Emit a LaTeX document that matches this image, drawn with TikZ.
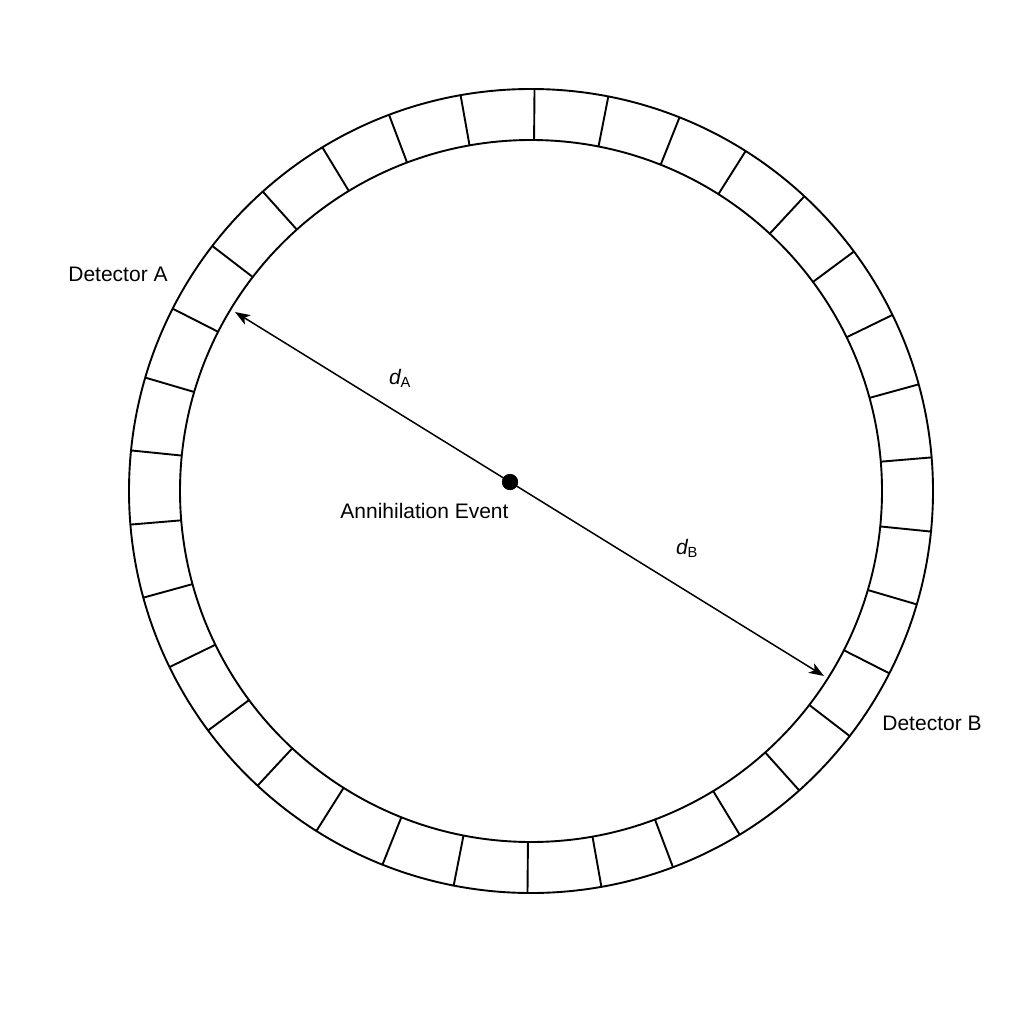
\documentclass[tikz,border=0pt]{standalone}
\usepackage{fontspec}
\setmainfont{Liberation Sans}
\usetikzlibrary{arrows.meta,calc}
\begin{document}
\begin{tikzpicture}[x=1pt,y=-1pt,
  ring/.style={draw=black,line width=1.9pt},
  arr/.style={draw=black,line width=1.5pt,-{Stealth[length=15pt,width=11pt,inset=4pt]}},
  lbl/.style={font=\fontsize{21}{25}\selectfont,text=black,inner sep=0pt},
  dotnode/.style={circle,fill=black,minimum size=16pt,inner sep=0pt}]
\useasboundingbox (0,0) rectangle (1024,1024);
\fill[white] (0,0) rectangle (1024,1024);
\coordinate (c) at (531,491);
\draw[ring] (c) circle [radius=402pt];
\draw[ring] (c) circle [radius=351pt];
\foreach \i in {0,...,33}{
  \pgfmathsetmacro{\a}{89.5+\i*360/34}
  \draw[ring] ($(c)+(\a:351pt)$) -- ($(c)+(\a:402pt)$);
}
\node[dotnode] (ev) at (510,482) {};
\coordinate (tipA) at (235,312);
\coordinate (tipB) at (824,676);
\draw[arr] (ev.center) -- (tipA);
\draw[arr] (ev.center) -- (tipB);
\node[dotnode] at (510,482) {};
\node[lbl] (detA) at (118,274) {Detector A};
\node[lbl] (detB) at (932,723) {Detector B};
\node[lbl] (evlbl) at (424.5,511) {Annihilation Event};
\node[lbl] (dA) at (400,378) {\itshape d\upshape\textsubscript{A}};
\node[lbl] (dB) at (687,548) {\itshape d\upshape\textsubscript{B}};
\end{tikzpicture}
\end{document}
